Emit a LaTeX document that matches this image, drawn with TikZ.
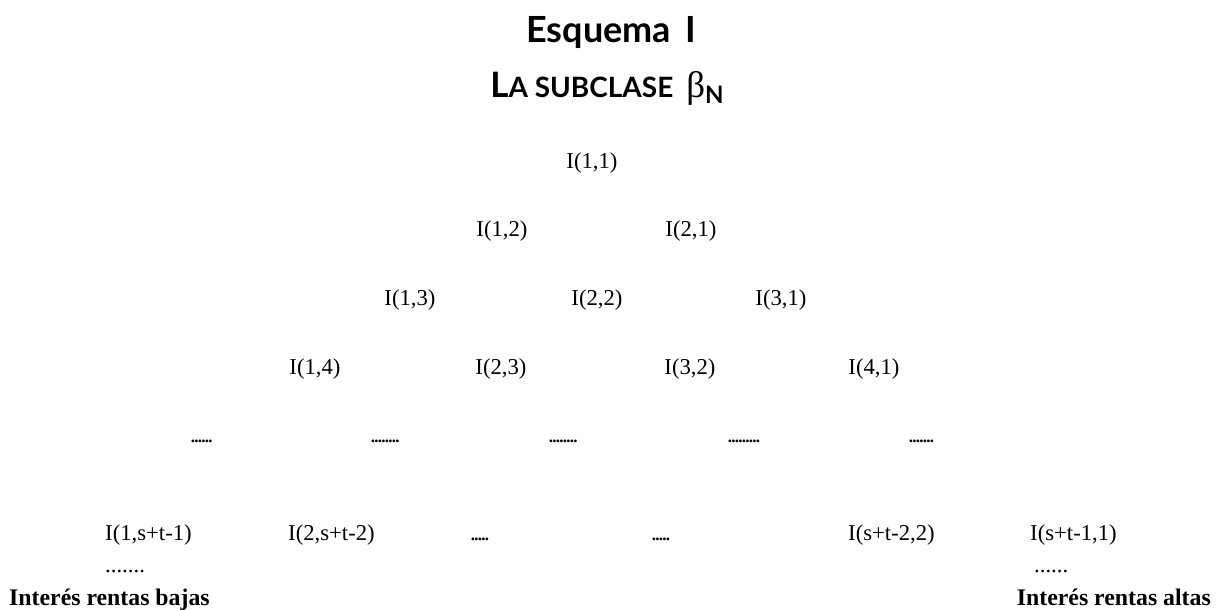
\documentclass[tikz,border=0pt]{standalone}
\usepackage{fontspec}
\newfontfamily\tnr{Liberation Serif}
\newfontfamily\titlefont{Lato}
\newcommand{\tdot}{\makebox[3.5pt][c]{.}}
\begin{document}
\begin{tikzpicture}[x=1pt,y=-1pt,
  cell/.style={inner sep=0pt,anchor=base,font=\tnr\fontsize{22.7}{26}\selectfont},
  dotsw/.style={inner sep=0pt,anchor=base west,font=\tnr\fontsize{22.7}{26}\selectfont},
  tightdots/.style={inner sep=0pt,anchor=base west,font=\tnr\bfseries\fontsize{17}{19}\selectfont},
  foot/.style={inner sep=0pt,font=\tnr\bfseries\fontsize{23.8}{27}\selectfont}]
\useasboundingbox (0,0) rectangle (1216,610);
% title
\node[inner sep=0pt,anchor=base] (t1) at (611,43) {\titlefont\bfseries\fontsize{36}{40}\selectfont Esquema\hspace{14pt}I};
\node[inner sep=0pt,anchor=base] (t2) at (607,97) {\titlefont\bfseries\fontsize{35}{38}\selectfont L{\fontsize{28}{30}\selectfont A SUBCLASE}\hspace{13pt}{\tnr\fontsize{37}{40}\selectfont\mdseries β}\raisebox{-6pt}{\fontsize{24}{26}\selectfont N}};
% row 1
\node[cell] (a11) at (592,168) {I(1,1)};
% row 2
\node[cell] (a12) at (502,236) {I(1,2)};
\node[cell] (a21) at (691,236) {I(2,1)};
% row 3
\node[cell] (a13) at (410,305) {I(1,3)};
\node[cell] (a22) at (597,305) {I(2,2)};
\node[cell] (a31) at (781,305) {I(3,1)};
% row 4
\node[cell] (a14) at (315,374) {I(1,4)};
\node[cell] (a23) at (501,374) {I(2,3)};
\node[cell] (a32) at (690,374) {I(3,2)};
\node[cell] (a41) at (874,374) {I(4,1)};
% row 5
\node[tightdots] (d1) at (191,442) {\tdot\tdot\tdot\tdot\tdot\tdot};
\node[tightdots] (d2) at (371,442) {\tdot\tdot\tdot\tdot\tdot\tdot\tdot\tdot};
\node[tightdots] (d3) at (549,442) {\tdot\tdot\tdot\tdot\tdot\tdot\tdot\tdot};
\node[tightdots] (d4) at (728,442) {\tdot\tdot\tdot\tdot\tdot\tdot\tdot\tdot\tdot};
\node[tightdots] (d5) at (909,442) {\tdot\tdot\tdot\tdot\tdot\tdot\tdot};
% row 6
\node[dotsw] (b1) at (105,540) {I(1,s+t-1)};
\node[dotsw] (b2) at (288,540) {I(2,s+t-2)};
\node[tightdots] (b3) at (471,540) {\tdot\tdot\tdot\tdot\tdot};
\node[tightdots] (b4) at (652,540) {\tdot\tdot\tdot\tdot\tdot};
\node[dotsw] (b5) at (848,540) {I(s+t-2,2)};
\node[dotsw] (b6) at (1030,540) {I(s+t-1,1)};
% row 7
\node[dotsw] (e1) at (105,572) {.......};
\node[dotsw] (e2) at (1034,572) {......};
% footer
\node[foot,anchor=base west] (f1) at (9,605) {Interés rentas bajas};
\node[foot,anchor=base east] (f2) at (1211,605) {Interés rentas altas};
\end{tikzpicture}
\end{document}
